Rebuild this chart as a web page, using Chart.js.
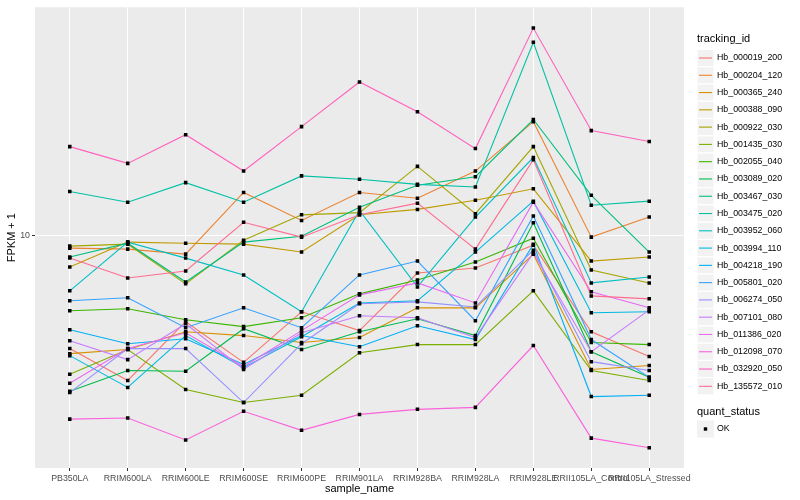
<!DOCTYPE html>
<html>
<head>
<meta charset="utf-8">
<script src="https://cdn.jsdelivr.net/npm/chart.js@4.4.0/dist/chart.umd.min.js"></script>
<style>
  html, body { margin: 0; padding: 0; background: #ffffff; }
</style>
</head>
<body>
<canvas id="lineChart" width="800" height="500"></canvas>
<script>
const sampleNames = ["PB350LA", "RRIM600LA", "RRIM600LE", "RRIM600SE", "RRIM600PE", "RRIM901LA",
  "RRIM928BA", "RRIM928LA", "RRIM928LE", "RRII105LA_Control", "RRII105LA_Stressed"];
const trackingIds = ["Hb_000019_200", "Hb_000204_120", "Hb_000365_240", "Hb_000388_090", "Hb_000922_030",
  "Hb_001435_030", "Hb_002055_040", "Hb_003089_020", "Hb_003467_030", "Hb_003475_020",
  "Hb_003952_060", "Hb_003994_110", "Hb_004218_190", "Hb_005801_020", "Hb_006274_050",
  "Hb_007101_080", "Hb_011386_020", "Hb_012098_070", "Hb_032920_050", "Hb_135572_010"];
const seriesColors = ["#F8766D", "#EA8331", "#D89000", "#C09B00", "#A3A500", "#7CAE00", "#39B600", "#00BB4E",
  "#00BF7D", "#00C1A3", "#00BFC4", "#00BAE0", "#00B0F6", "#35A2FF", "#9590FF", "#C77CFF",
  "#E76BF3", "#FA62DB", "#FF62BC", "#FF6C91"];

// FPKM + 1 per sample
const hb000019 = [4.17, 3.26, 5.13, 3.75, 5.54, 4.79, 7.47, 7.76, 9.26, 4.75, 3.92];
const hb000204 = [9.05, 8.98, 8.64, 13.9, 11.2, 13.9, 13.3, 16.4, 24.0, 9.85, 11.5];
const hb000365 = [4.01, 4.14, 4.75, 4.61, 4.37, 4.54, 5.71, 5.71, 8.64, 3.55, 3.66];
const hb000388 = [7.82, 9.48, 9.40, 9.33, 8.78, 11.7, 12.2, 13.1, 14.3, 8.19, 8.45];
const hb000922 = [9.19, 9.33, 6.87, 9.62, 11.7, 11.9, 17.0, 11.8, 19.8, 7.64, 6.92];
const hb001435 = [3.42, 4.14, 3.04, 2.75, 2.91, 4.04, 4.30, 4.30, 6.51, 3.52, 3.26];
const hb002055 = [5.58, 5.67, 5.21, 4.94, 5.29, 6.36, 7.08, 8.13, 9.77, 4.37, 4.30];
const hb003089 = [3.00, 3.52, 3.50, 4.86, 4.14, 4.75, 5.25, 4.61, 11.0, 4.07, 3.34];
const hb003467 = [8.45, 9.40, 6.97, 9.48, 9.92, 12.4, 14.7, 15.7, 24.4, 13.6, 8.78];
const hb003475 = [14.0, 12.9, 15.0, 12.9, 15.8, 15.4, 14.8, 14.5, 44.3, 12.6, 13.0];
const hb003952 = [6.51, 9.48, 8.38, 7.36, 5.54, 12.1, 6.71, 11.5, 18.2, 6.92, 7.24];
const hb003994 = [3.95, 3.09, 4.61, 3.60, 4.57, 5.93, 6.03, 8.78, 13.0, 5.50, 5.54];
const hb004218 = [4.82, 4.33, 4.50, 3.69, 4.61, 4.23, 4.97, 4.47, 9.33, 2.88, 2.91];
const hb005801 = [6.03, 6.17, 4.90, 5.71, 4.90, 7.36, 8.19, 5.17, 11.6, 4.47, 3.34];
const hb006274 = [2.97, 4.17, 4.17, 2.75, 4.33, 5.89, 5.98, 5.75, 8.91, 3.77, 3.52];
const hb007101 = [4.43, 3.83, 5.05, 3.55, 4.71, 5.37, 5.29, 4.54, 8.71, 4.07, 5.62];
const hb011386 = [3.19, 4.17, 4.71, 3.63, 4.79, 6.31, 6.92, 5.93, 12.9, 6.46, 5.71];
const hb012098 = [2.42, 2.44, 2.06, 2.57, 2.22, 2.51, 2.61, 2.65, 4.27, 2.09, 1.94];
const hb032920 = [19.8, 17.4, 21.7, 16.4, 23.1, 32.6, 25.9, 19.5, 49.4, 22.4, 20.6];
const hb135572 = [8.38, 7.19, 7.59, 11.05, 9.85, 11.7, 12.8, 8.98, 17.9, 6.26, 6.12];

const seriesValues = [hb000019, hb000204, hb000365, hb000388, hb000922, hb001435, hb002055, hb003089,
  hb003467, hb003475, hb003952, hb003994, hb004218, hb005801, hb006274, hb007101,
  hb011386, hb012098, hb032920, hb135572];

const yTicks = [10];
const yMin = 1.66, yMax = 58.0;

const FONT = "'Liberation Sans', Arial, sans-serif";
Chart.defaults.font.family = FONT;

// grey ggplot-style panel behind the grid
const panelBg = {
  id: "panelBg",
  beforeDraw(chart) {
    const a = chart.chartArea, ctx = chart.ctx;
    ctx.save();
    ctx.fillStyle = "#EBEBEB";
    ctx.fillRect(a.left, a.top, a.right - a.left, a.bottom - a.top);
    ctx.restore();
  }
};

// legend on the right, drawn by hand
const sideLegend = {
  id: "sideLegend",
  afterDraw(chart) {
    const ctx = chart.ctx;
    const x0 = 697, step = 17.28, key = 17;
    ctx.save();
    ctx.textBaseline = "middle";
    ctx.textAlign = "left";
    ctx.fillStyle = "#000";
    ctx.font = "11px " + FONT;
    ctx.fillText("tracking_id", x0, 39);
    ctx.font = "8.8px " + FONT;
    trackingIds.forEach((id, i) => {
      const cy = 58 + i * step;
      ctx.fillStyle = "#F2F2F2";
      ctx.fillRect(x0, cy - key / 2, key, key);
      ctx.strokeStyle = "#FFFFFF";
      ctx.lineWidth = 1;
      ctx.strokeRect(x0, cy - key / 2, key, key);
      ctx.strokeStyle = seriesColors[i];
      ctx.lineWidth = 1.1;
      ctx.beginPath();
      ctx.moveTo(x0 + 2, cy);
      ctx.lineTo(x0 + key - 2, cy);
      ctx.stroke();
      ctx.fillStyle = "#000";
      ctx.fillText(id, x0 + 20, cy);
    });
    ctx.font = "11px " + FONT;
    ctx.fillText("quant_status", x0, 412);
    const oy = 429;
    ctx.fillStyle = "#F2F2F2";
    ctx.fillRect(x0, oy - key / 2, key, key);
    ctx.fillStyle = "#000";
    ctx.fillRect(x0 + key / 2 - 1.7, oy - 1.7, 3.4, 3.4);
    ctx.font = "8.8px " + FONT;
    ctx.fillText("OK", x0 + 20, oy);
    ctx.restore();
  }
};

const lineSets = trackingIds.map((id, i) => ({
  label: id,
  data: seriesValues[i].map((v, j) => ({ x: j, y: v })),
  borderColor: seriesColors[i],
  backgroundColor: seriesColors[i],
  borderWidth: 1.1,
  pointRadius: 0,
  tension: 0,
  order: trackingIds.length - i
}));

// all points in one layer on top of the lines
const pointSet = {
  label: "OK",
  data: seriesValues.flatMap(vals => vals.map((v, j) => ({ x: j, y: v }))),
  showLine: false,
  pointStyle: "rect",
  pointRadius: 2.5,
  pointBorderWidth: 0,
  pointBackgroundColor: "#000000",
  order: -1
};

const tickFont = { size: 8.8, family: FONT };
const titleFont = { size: 11, family: FONT };

new Chart(document.getElementById("lineChart").getContext("2d"), {
  type: "line",
  data: { datasets: [...lineSets, pointSet] },
  plugins: [panelBg, sideLegend],
  options: {
    responsive: false,
    animation: false,
    devicePixelRatio: 1,
    layout: { padding: { left: 0, top: 5, right: 116, bottom: 0 } },
    plugins: { legend: { display: false }, tooltip: { enabled: false } },
    scales: {
      x: {
        type: "linear",
        min: -0.6,
        max: sampleNames.length - 1 + 0.6,
        afterBuildTicks: axis => { axis.ticks = sampleNames.map((_, i) => ({ value: i })); },
        afterFit: axis => { axis.height = 32; },
        ticks: {
          autoSkip: false, maxRotation: 0, minRotation: 0,
          color: "#4D4D4D", font: tickFont, padding: 2,
          callback: v => sampleNames[v]
        },
        grid: { color: "#FFFFFF", lineWidth: 1, tickColor: "#333333", tickLength: 3 },
        border: { display: false },
        title: { display: true, text: "sample_name", color: "#000", font: titleFont, padding: { top: 0, bottom: 4 } }
      },
      y: {
        type: "logarithmic",
        min: yMin,
        max: yMax,
        afterBuildTicks: axis => { axis.ticks = yTicks.map(v => ({ value: v })); },
        afterFit: axis => { axis.width = 35; },
        ticks: { color: "#4D4D4D", font: tickFont, padding: 2, callback: v => String(v) },
        grid: { color: "#FFFFFF", lineWidth: 1, tickColor: "#333333", tickLength: 3 },
        border: { display: false },
        title: { display: true, text: "FPKM + 1", color: "#000", font: titleFont, padding: { top: 5, bottom: 0 } }
      }
    }
  }
});
</script>
</body>
</html>
